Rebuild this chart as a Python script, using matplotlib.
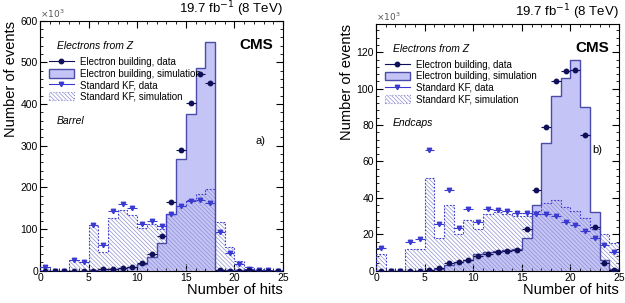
import numpy as np
import matplotlib
matplotlib.use("Agg")
import matplotlib.pyplot as plt
from matplotlib.patches import Patch
from matplotlib.lines import Line2D

plt.rcParams['font.family'] = ['Liberation Sans', 'DejaVu Sans']
plt.rcParams['hatch.linewidth'] = 0.5

# bin edges, number of hits 0..25
edges = np.arange(0, 26)
centers = edges[:-1] + 0.5

# ---- Barrel (x10^3 events)
bar_el_sim = [0, 0, 0, 0, 0, 1, 3, 5, 6, 9, 15, 32, 67, 135, 267, 375, 487, 550, 2, 1, 1, 0, 0, 0, 0]
bar_el_data = [0, 0, 0, 0, 0, 0, 3, 5, 7, 10, 18, 40, 84, 165, 290, 403, 473, 451, 1, 0, 0, 1, 0, 0, 0]
bar_kf_sim = [10, 0, 0, 25, 20, 110, 45, 127, 145, 133, 103, 112, 100, 137, 155, 170, 183, 196, 117, 58, 23, 8, 3, 2, 1]
bar_kf_data = [8, 0, 0, 25, 22, 110, 62, 143, 160, 150, 113, 120, 108, 135, 155, 168, 170, 163, 92, 42, 15, 5, 2, 1, 0]

# ---- Endcaps (x10^3 events)
end_el_sim = [0, 0, 0, 0, 0, 0.2, 1, 3, 5, 6, 9, 10, 11, 11.5, 12, 18, 36, 70, 96, 106, 116, 90, 32, 6, 1]
end_el_data = [0, 0, 0, 0, 0, 0.2, 1.5, 4, 5, 6, 8, 9, 10.5, 11, 11.5, 23, 44.5, 79, 104, 109.5, 110.5, 74.5, 24, 4, 0.5]
end_kf_sim = [9, 0, 0, 12, 12, 51, 18, 36, 20, 28, 23, 31, 32, 31, 30, 30, 33, 37, 39, 35, 33, 29, 23, 20, 15]
end_kf_data = [12.5, 0, 0, 15.5, 17.5, 66.5, 25.5, 44.5, 23.5, 34, 27, 34, 33.5, 33, 31.5, 31.5, 31, 31, 30, 27, 25, 22, 18, 14, 10]

fill_col = '#c4c4f6'
edge_col = '#4b4baa'
el_col = '#10105a'
kf_col = '#3a3ad0'
hatch_col = '#9090d2'
hatch = '\\' * 8


def draw_panel(ax, el_sim, el_data, kf_sim, kf_data, ymax, ystep, yminor, region, tag, tagy):
    ax.stairs(el_sim, edges, fill=True, facecolor=fill_col, edgecolor='none', zorder=1)
    ax.stairs(el_sim, edges, color=edge_col, lw=1.0, zorder=3)
    ax.stairs(kf_sim, edges, fill=True, facecolor='none', edgecolor=hatch_col, hatch=hatch,
              lw=0, zorder=2)
    ax.stairs(kf_sim, edges, color=kf_col, lw=0.8, linestyle=(0, (1.5, 1.5)), zorder=3)
    ax.errorbar(centers, el_data, xerr=0.5, fmt='o', ms=3.2, color=el_col, lw=0.8,
                capsize=0, zorder=5)
    ax.errorbar(centers, kf_data, xerr=0.5, fmt='v', ms=3.2, color=kf_col, lw=0.8,
                capsize=0, zorder=4, ls='none')
    ax.set_xlim(0, 25)
    ax.set_ylim(0, ymax)
    ax.set_xticks(np.arange(0, 26, 5))
    ax.set_xticks(np.arange(0, 25.1, 1), minor=True)
    ax.set_yticks(np.arange(0, ymax + 0.1, ystep))
    ax.set_yticks(np.arange(0, ymax + 0.1, yminor), minor=True)
    ax.tick_params(which='both', direction='in', top=True, right=True, labelsize=7.5, pad=1.5)
    ax.tick_params(which='major', length=5)
    ax.tick_params(which='minor', length=2.5)
    ax.set_xlabel('Number of hits', fontsize=10.5, loc='right', labelpad=0)
    ax.set_ylabel('Number of events', fontsize=10.5, loc='top', labelpad=2)
    ax.text(0.0, 1.003, r'$\times10^3$', transform=ax.transAxes, fontsize=6.5,
            color='#555555', va='bottom', ha='left')
    ax.annotate(r'19.7 fb$^{-1}$ (8 TeV)', xy=(1.0, 1.0), xycoords='axes fraction',
                xytext=(0, 1.5), textcoords='offset points', fontsize=9.5,
                ha='right', va='bottom')
    ax.text(0.96, 0.93, 'CMS', transform=ax.transAxes, fontsize=11, fontweight='bold',
            ha='right', va='top')
    ax.text(0.07, 0.90, 'Electrons from Z', transform=ax.transAxes, fontsize=7.5,
            style='italic', ha='left', va='center')
    ax.text(0.07, 0.60, region, transform=ax.transAxes, fontsize=7.5,
            style='italic', ha='left', va='center')
    ax.text(0.93, tagy, tag, transform=ax.transAxes, fontsize=8, ha='right', va='center')
    handles = [
        Line2D([], [], color=el_col, marker='o', ms=3.2, lw=0.8),
        Patch(facecolor=fill_col, edgecolor=edge_col, lw=1.0),
        Line2D([], [], color=kf_col, marker='v', ms=3.2, lw=0.8),
        Patch(facecolor='white', edgecolor=hatch_col, hatch=hatch, lw=0.8, linestyle=':'),
    ]
    labels = ['Electron building, data', 'Electron building, simulation',
              'Standard KF, data', 'Standard KF, simulation']
    ax.legend(handles, labels, loc='upper left', bbox_to_anchor=(0.02, 0.87), frameon=False,
              fontsize=7, handlelength=2.6, handleheight=1.0, labelspacing=0.15,
              borderaxespad=0, handletextpad=0.6)


fig = plt.figure(figsize=(6.25, 3.03), dpi=100)
ax1 = fig.add_axes([40 / 625, 1 - 270.7 / 303, 243 / 625, 250 / 303])
ax2 = fig.add_axes([376 / 625, 1 - 270.7 / 303, 243 / 625, 246.7 / 303])

draw_panel(ax1, bar_el_sim, bar_el_data, bar_kf_sim, bar_kf_data, 600, 100, 20,
           'Barrel', 'a)', 0.52)
draw_panel(ax2, end_el_sim, end_el_data, end_kf_sim, end_kf_data, 135.5, 20, 4,
           'Endcaps', 'b)', 0.49)

fig.savefig('out.png', dpi=100)
